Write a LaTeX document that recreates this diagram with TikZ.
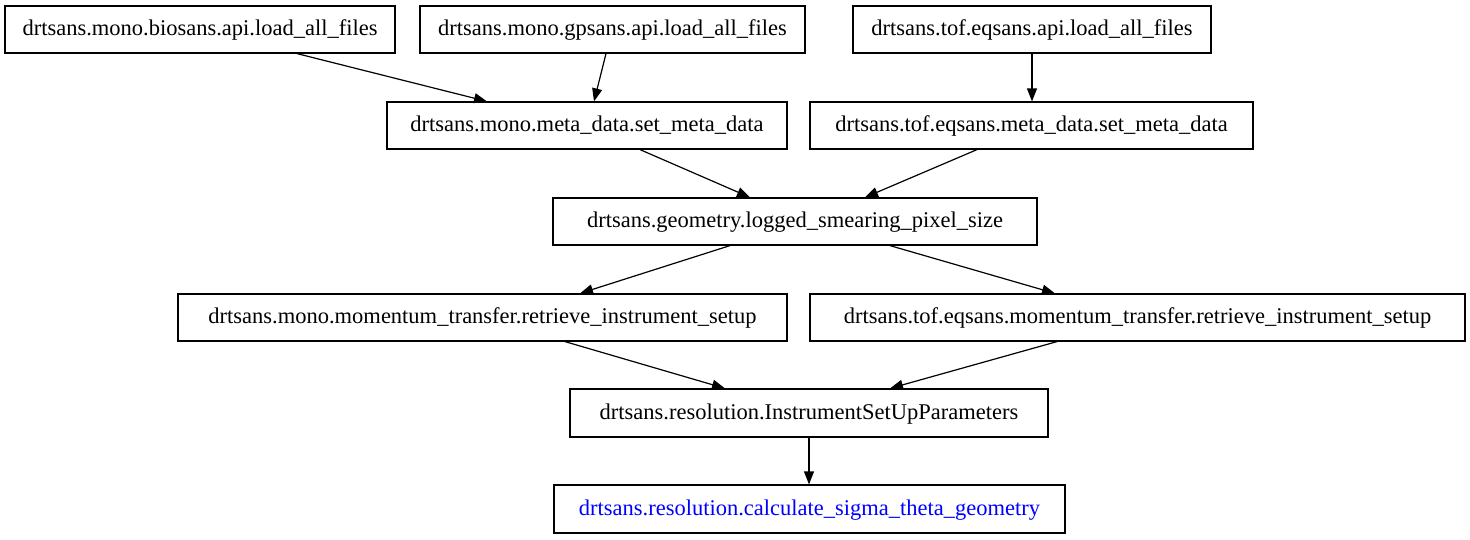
\documentclass[tikz,border=0pt]{standalone}
\usepackage{fontspec}
\setmainfont{Liberation Serif}
\usetikzlibrary{arrows.meta}
\begin{document}
\begin{tikzpicture}[x=1pt,y=-1pt,
  box/.style={draw,line width=1.2pt,inner sep=0pt,font=\fontsize{22.5}{25}\selectfont,minimum height=47pt,text height=14pt,text depth=2pt},
  edge/.style={draw,line width=1.2pt,-{Triangle[length=13pt,width=10pt]}}]
\useasboundingbox (0,0) rectangle (1470,539);
\node[box,minimum width=390pt] (A) at (200,29.5) {drtsans.mono.biosans.api.load\_all\_files};
\node[box,minimum width=385pt] (B) at (612.5,29.5) {drtsans.mono.gpsans.api.load\_all\_files};
\node[box,minimum width=358pt] (C) at (1032,29.5) {drtsans.tof.eqsans.api.load\_all\_files};
\node[box,minimum width=400pt] (D) at (587,125.5) {drtsans.mono.meta\_data.set\_meta\_data};
\node[box,minimum width=443pt] (E) at (1031.5,125.5) {drtsans.tof.eqsans.meta\_data.set\_meta\_data};
\node[box,minimum width=484pt] (F) at (795,221.5) {drtsans.geometry.logged\_smearing\_pixel\_size};
\node[box,minimum width=609pt] (G) at (482.5,317.5) {drtsans.mono.momentum\_transfer.retrieve\_instrument\_setup};
\node[box,minimum width=655pt] (H) at (1137.5,317.5) {drtsans.tof.eqsans.momentum\_transfer.retrieve\_instrument\_setup};
\node[box,minimum width=478pt,minimum height=48pt] (I) at (809,413) {drtsans.resolution.InstrumentSetUpParameters};
\node[box,minimum width=511pt,minimum height=48pt,text=blue] (J) at (809.5,509) {drtsans.resolution.calculate\_sigma\_theta\_geometry};
\draw[edge] ([xshift=97pt]A.south) -- ([xshift=-100pt]D.north);
\draw[edge] ([xshift=-6.5pt]B.south) -- ([xshift=7pt]D.north);
\draw[edge] (C.south) -- (C.south |- E.north);
\draw[edge] ([xshift=53pt]D.south) -- ([xshift=-45pt]F.north);
\draw[edge] ([xshift=-54.5pt]E.south) -- ([xshift=70pt]F.north);
\draw[edge] ([xshift=-65pt]F.south) -- ([xshift=97.5pt]G.north);
\draw[edge] ([xshift=95pt]F.south) -- ([xshift=-82.5pt]H.north);
\draw[edge] ([xshift=82.5pt]G.south) -- ([xshift=-84pt]I.north);
\draw[edge] ([xshift=-80.5pt]H.south) -- ([xshift=81pt]I.north);
\draw[edge] (I.south) -- (I.south |- J.north);
\end{tikzpicture}
\end{document}
